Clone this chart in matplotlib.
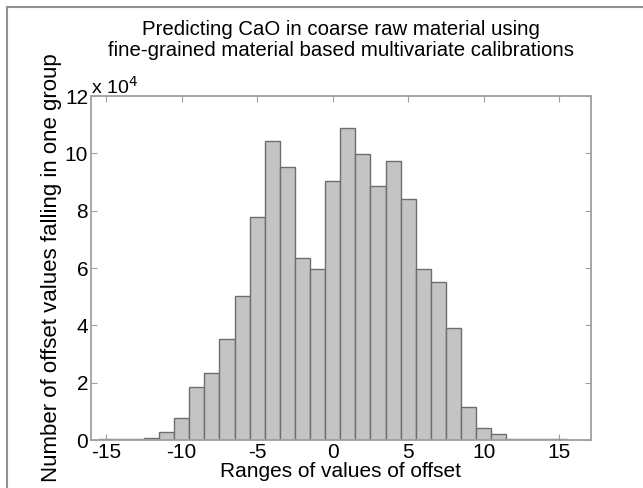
import matplotlib
matplotlib.use("Agg")
import matplotlib.pyplot as plt
from matplotlib.lines import Line2D

plt.rcParams['font.family'] = ['Liberation Sans', 'DejaVu Sans']

# Histogram of offsets: bin centres and counts per bin
bin_centers = list(range(-15, 16))
counts = [500, 200, 200, 600, 2900, 7800, 18400, 23300, 35100, 50300,
          77900, 104400, 95300, 63400, 59600, 90500, 109000, 99800, 88600,
          97400, 84100, 59500, 55200, 39200, 11600, 4100, 2100, 400, 300,
          300, 500]
bin_width = 1.0

x_ticks = [-15, -10, -5, 0, 5, 10, 15]
y_ticks = [0, 20000, 40000, 60000, 80000, 100000, 120000]
y_tick_labels = ['0', '2', '4', '6', '8', '10', '12']

W, H = 643, 488
fig = plt.figure(figsize=(W / 100, H / 100), dpi=100)

ax = fig.add_axes([91 / W, (H - 440) / H, 500 / W, 344 / H])
ax.bar(bin_centers, counts, width=bin_width, color='#c4c4c4',
       edgecolor='#6e6e6e', linewidth=1.0, zorder=2)

ax.set_xlim(-16.0, 17.1)
ax.set_ylim(0, 120000)
ax.set_xticks(x_ticks)
ax.set_xticklabels([str(t) for t in x_ticks])
ax.set_yticks(y_ticks)
ax.set_yticklabels(y_tick_labels)

for side in ['left', 'right', 'top', 'bottom']:
    ax.spines[side].set_color('#a0a0a0')
    ax.spines[side].set_linewidth(1.3)
ax.tick_params(direction='in', length=4, color='#a0a0a0', labelsize=15,
               top=True, right=True, pad=2)

ax.text(0.0, 0.995, r'x 10$^4$', transform=ax.transAxes, fontsize=14,
        ha='left', va='bottom')

ax.set_xlabel('Ranges of values of offset', fontsize=15, labelpad=0)
ax.set_ylabel('Number of offset values falling in one group', fontsize=16,
              labelpad=2)
ax.set_title('Predicting CaO in coarse raw material using\n'
             'fine-grained material based multivariate calibrations',
             fontsize=14.7, pad=29, linespacing=1.1)

# Frame lines along the top and left edge of the figure
fig.add_artist(Line2D([7 / W, 1], [1 - 7 / H, 1 - 7 / H],
                      transform=fig.transFigure, color='#909090', lw=1.5))
fig.add_artist(Line2D([7 / W, 7 / W], [0, 1 - 7 / H],
                      transform=fig.transFigure, color='#909090', lw=1.5))

fig.savefig('out.png', dpi=100)
